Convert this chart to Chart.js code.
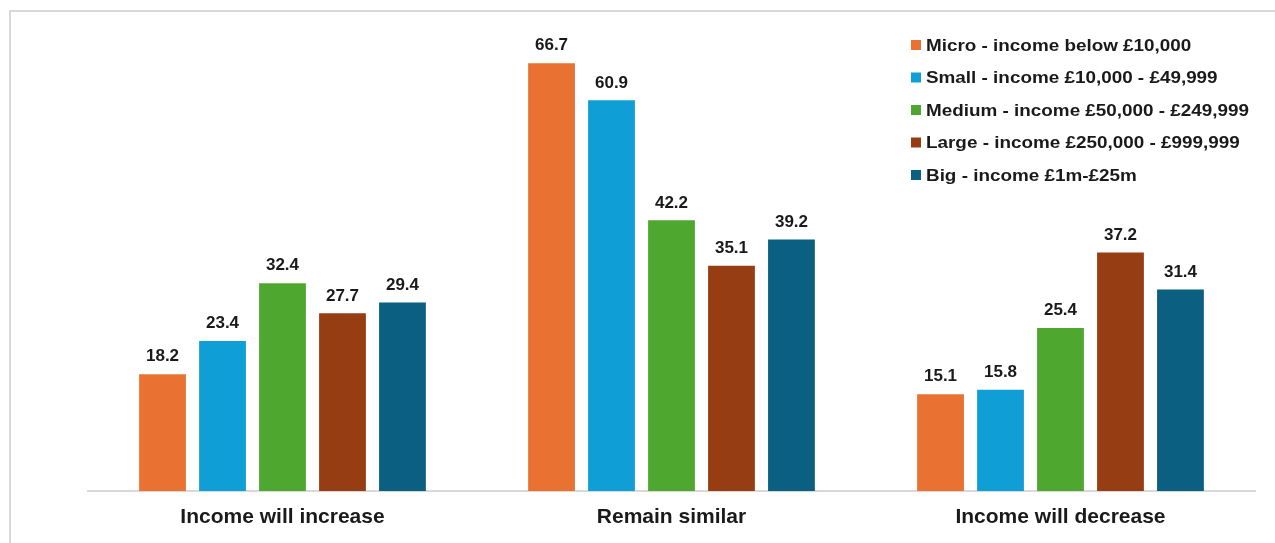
<!DOCTYPE html>
<html>
<head>
<meta charset="utf-8">
<script src="https://cdn.jsdelivr.net/npm/chart.js@4/dist/chart.umd.min.js"></script>
<style>
  html, body { margin: 0; padding: 0; background: #fff; overflow: hidden; }
  #frame { position: absolute; left: 9px; top: 10px; width: 1400px; height: 700px;
           border-left: 2px solid #d9d9d9; border-top: 2px solid #d9d9d9; }
  #wrap { position: absolute; left: 0; top: 0; width: 1275px; height: 543px; }
</style>
</head>
<body>
<div id="frame"></div>
<div id="wrap"><canvas id="chart"></canvas></div>
<script>
/* categories and series */
var categories = ['Income will increase', 'Remain similar', 'Income will decrease'];

var seriesNames = [
  'Micro - income below \u00a310,000',
  'Small - income \u00a310,000 - \u00a349,999',
  'Medium - income \u00a350,000 - \u00a3249,999',
  'Large - income \u00a3250,000 - \u00a3999,999',
  'Big - income \u00a31m-\u00a325m'
];
var seriesColors = ['#e97132', '#0f9ed5', '#4ea72e', '#973d13', '#0b5f80'];

var micro  = [18.2, 66.7, 15.1];
var small  = [23.4, 60.9, 15.8];
var medium = [32.4, 42.2, 25.4];
var large  = [27.7, 35.1, 37.2];
var big    = [29.4, 39.2, 31.4];

var FONT = '"Liberation Sans", Arial, sans-serif';

/* ── value labels above each bar ── */
var valueLabels = {
  id: 'valueLabels',
  afterDatasetsDraw: function (chart) {
    var ctx = chart.ctx;
    ctx.save();
    ctx.font = 'bold 17px ' + FONT;
    ctx.fillStyle = '#1a1a1a';
    ctx.textAlign = 'center';
    ctx.textBaseline = 'bottom';
    chart.data.datasets.forEach(function (ds, i) {
      chart.getDatasetMeta(i).data.forEach(function (bar, j) {
        ctx.fillText(ds.data[j].toFixed(1), bar.x, bar.y - 9);
      });
    });
    ctx.restore();
  }
};

/* ── legend drawn inside the plot, top right (text slightly widened like the source) ── */
var insideLegend = {
  id: 'insideLegend',
  afterDraw: function (chart) {
    var ctx = chart.ctx, x = 911, y = 45, step = 32.5, sx = 1.11;
    ctx.save();
    ctx.font = 'bold 17px ' + FONT;
    ctx.textBaseline = 'middle';
    ctx.textAlign = 'left';
    chart.data.datasets.forEach(function (ds, i) {
      var cy = y + i * step;
      ctx.fillStyle = ds.backgroundColor;
      ctx.fillRect(x, cy - 5, 10, 10);
      ctx.save();
      ctx.translate(x + 15, cy + 1);
      ctx.scale(sx, 1);
      ctx.fillStyle = '#1a1a1a';
      ctx.fillText(ds.label, 0, 0);
      ctx.restore();
    });
    ctx.restore();
  }
};

var seriesData = [micro, small, medium, large, big];

new Chart(document.getElementById('chart'), {
  type: 'bar',
  data: {
    labels: categories,
    datasets: seriesData.map(function (d, i) {
      return { label: seriesNames[i], data: d, backgroundColor: seriesColors[i], borderWidth: 0,
               categoryPercentage: 0.771, barPercentage: 0.78 };
    })
  },
  options: {
    responsive: true, maintainAspectRatio: false, animation: false,
    layout: { padding: { left: 88, right: 20, top: 42, bottom: 0 } },
    plugins: { legend: { display: false }, tooltip: { enabled: false } },
    scales: {
      x: {
        grid: { display: false, drawTicks: false },
        border: { display: true, color: '#d9d9d9', width: 2 },
        ticks: { color: '#1a1a1a', padding: 14, font: { family: FONT, size: 21, weight: 'bold' } },
        afterFit: function (s) { s.height = 52; }
      },
      y: { display: false, min: 0, max: 70 }
    }
  },
  plugins: [valueLabels, insideLegend]
});
</script>
</body>
</html>
